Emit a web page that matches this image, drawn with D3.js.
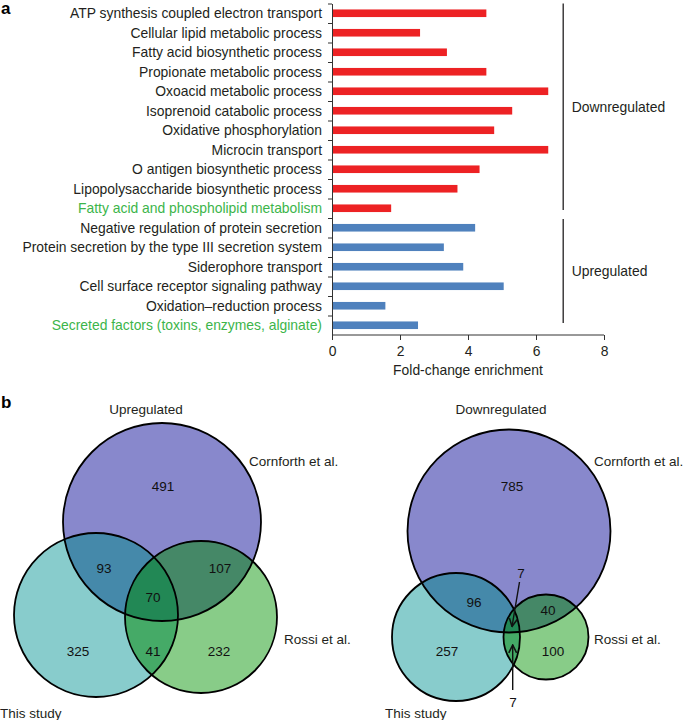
<!DOCTYPE html>
<html><head><meta charset="utf-8">
<script src="https://cdn.jsdelivr.net/npm/d3@7"></script>
<style>body{margin:0;background:#fff}svg{display:block}text{font-family:"Liberation Sans",Arial,Helvetica,sans-serif}</style>
</head><body>
<script>
// ---------- DATA ----------
const categories = [
  "ATP synthesis coupled electron transport",
  "Cellular lipid metabolic process",
  "Fatty acid biosynthetic process",
  "Propionate metabolic process",
  "Oxoacid metabolic process",
  "Isoprenoid catabolic process",
  "Oxidative phosphorylation",
  "Microcin transport",
  "O antigen biosynthetic process",
  "Lipopolysaccharide biosynthetic process",
  "Fatty acid and phospholipid metabolism",
  "Negative regulation of protein secretion",
  "Protein secretion by the type III secretion system",
  "Siderophore transport",
  "Cell surface receptor signaling pathway",
  "Oxidation\u2013reduction process",
  "Secreted factors (toxins, enzymes, alginate)"
];
const foldChange = [4.54, 2.59, 3.38, 4.54, 6.36, 5.30, 4.77, 6.36, 4.34, 3.69, 1.74, 4.21, 3.29, 3.86, 5.05, 1.57, 2.53];
const direction = ["down","down","down","down","down","down","down","down","down","down","down","up","up","up","up","up","up"];
const highlighted = ["Fatty acid and phospholipid metabolism", "Secreted factors (toxins, enzymes, alginate)"];
const xTicks = [0, 2, 4, 6, 8];
const groupNames = ["Downregulated", "Upregulated"];

const vennSets = ["This study", "Cornforth et al.", "Rossi et al."];
const vennRegions = ["C", "TC", "CR", "TCR", "T", "TR", "R"];
const vennUpCounts = [491, 93, 107, 70, 325, 41, 232];
const vennDownCounts = [785, 96, 40, 7, 257, 7, 100];
const vennTitles = ["Upregulated", "Downregulated"];

// ---------- STYLE / LAYOUT ----------
const W = 685, H = 720;
const FS = 13.9, FSV = 13.5;
const colors = {down: "#ed2224", up: "#4f81bd", hl: "#3cb54a", text: "#231f20"};
const regionFill = {C: "#8888cc", T: "#88cccc", R: "#88cc88", TC: "#4589aa", CR: "#458867", TR: "#45aa67", TCR: "#228855"};

const svg = d3.select("body").append("svg").attr("width", W).attr("height", H);

// ---------- PANEL A ----------
const x = d3.scaleLinear().domain([0, 8]).range([332, 604]);
const yTop = 3.5, yBot = 335;
const y = d3.scaleBand().domain(categories).range([yTop, yBot]);
const yIdx = d3.scaleLinear().domain([0, categories.length]).range([yTop, yBot]);
const gA = svg.append("g");

gA.append("text").text("a").attr("x", 1).attr("y", 14).attr("font-weight", "bold").attr("font-size", 17).attr("fill", "#000");

gA.selectAll("rect.bar").data(categories).join("rect").attr("class", "bar")
  .attr("x", x(0)).attr("y", d => y(d) + y.bandwidth() / 2 - 3.8)
  .attr("width", (d, i) => x(foldChange[i]) - x(0)).attr("height", 7.6)
  .attr("fill", (d, i) => colors[direction[i]]);

const yAxis = d3.axisLeft(yIdx).tickValues(d3.range(0, categories.length)).tickFormat("").tickSize(4).tickSizeOuter(0);
const gy = gA.append("g").attr("transform", `translate(${x(0)},0)`).call(yAxis);
gy.selectAll("path,line").attr("stroke", "#333").attr("stroke-width", 1);

gA.selectAll("text.cat").data(categories).join("text").attr("class", "cat")
  .attr("x", 322).attr("y", d => y(d) + y.bandwidth() / 2).attr("dy", "0.35em")
  .attr("text-anchor", "end").attr("font-size", FS)
  .attr("fill", d => highlighted.includes(d) ? colors.hl : colors.text).text(d => d);

const xAxis = d3.axisBottom(x).tickValues(xTicks).tickSize(5).tickSizeOuter(0);
const gx = gA.append("g").attr("transform", `translate(0,${yBot})`).call(xAxis);
gx.selectAll("path,line").attr("stroke", "#333");
gx.selectAll("text").attr("font-size", FS).attr("fill", colors.text).attr("dy", "0.95em")
  .style("font-family", '"Liberation Sans",Arial,sans-serif');
gx.select(".domain").attr("d", `M${x(0)},0H${x(8)}`);

gA.append("text").attr("x", x(4)).attr("y", 375).attr("text-anchor", "middle").attr("font-size", FS)
  .attr("fill", colors.text).text("Fold-change enrichment");

const firstUp = direction.indexOf("up");
const brackets = [
  {name: groupNames[0], y0: yIdx(0), y1: yIdx(firstUp) - 8},
  {name: groupNames[1], y0: yIdx(firstUp) + 1, y1: yIdx(categories.length) - 12}
];
const bx = x(6.8);
brackets.forEach(b => {
  gA.append("line").attr("x1", bx).attr("x2", bx).attr("y1", b.y0).attr("y2", b.y1).attr("stroke", "#231f20").attr("stroke-width", 1.3);
  gA.append("text").attr("x", bx + 8.5).attr("y", (b.y0 + b.y1) / 2).attr("dy", "0.35em").attr("font-size", FS)
    .attr("fill", colors.text).text(b.name);
});

// ---------- PANEL B ----------
svg.append("text").text("b").attr("x", 1).attr("y", 408).attr("font-weight", "bold").attr("font-size", 17).attr("fill", "#000");

const defs = svg.append("defs");
defs.append("marker").attr("id", "arr").attr("viewBox", "0 0 10 10").attr("refX", 9).attr("refY", 5)
  .attr("markerWidth", 7).attr("markerHeight", 7).attr("orient", "auto-start-reverse")
  .append("path").attr("d", "M1,1L9,5L1,9").attr("fill", "none").attr("stroke", "#111").attr("stroke-width", 1.6);

const vennLayouts = [
  {
    title: {x: 146, y: 409},
    circles: {T: [96, 615, 82], C: [162, 522, 99], R: [201, 617, 76]},
    setLabels: {C: [249, 461, "start"], R: [284, 639, "start"], T: [0, 713, "start"]},
    pos: {C: [163, 486], TC: [104, 568], CR: [220, 568], TCR: [153, 597], T: [78, 651], TR: [153, 651], R: [219, 651]},
    counts: vennUpCounts
  },
  {
    title: {x: 501, y: 409},
    circles: {T: [456, 637, 64], C: [509, 531, 101.5], R: [546, 637, 42.5]},
    setLabels: {C: [594, 461, "start"], R: [594, 639, "start"], T: [385, 713, "start"]},
    pos: {C: [512, 486], TC: [474, 602], CR: [548, 610], TCR: [521, 573], T: [447, 651], TR: [513, 702], R: [553, 651]},
    arrows: {TCR: [[519.5, 582], [512, 626.5]], TR: [[512.7, 690], [512.7, 645]]},
    counts: vennDownCounts
  }
];
const setKey = {"This study": "T", "Cornforth et al.": "C", "Rossi et al.": "R"};

vennLayouts.forEach((L, li) => {
  const g = svg.append("g");
  const c = L.circles;
  const cid = k => `clip${li}${k}`;
  ["T", "C", "R"].forEach(k => {
    defs.append("clipPath").attr("id", cid(k)).append("circle").attr("cx", c[k][0]).attr("cy", c[k][1]).attr("r", c[k][2]);
  });
  const circ = (sel, k, fill) => sel.append("circle").attr("cx", c[k][0]).attr("cy", c[k][1]).attr("r", c[k][2]).attr("fill", fill);
  ["C", "T", "R"].forEach(k => circ(g, k, regionFill[k]));
  circ(g.append("g").attr("clip-path", `url(#${cid("C")})`), "T", regionFill.TC);
  circ(g.append("g").attr("clip-path", `url(#${cid("C")})`), "R", regionFill.CR);
  circ(g.append("g").attr("clip-path", `url(#${cid("T")})`), "R", regionFill.TR);
  circ(g.append("g").attr("clip-path", `url(#${cid("C")})`).append("g").attr("clip-path", `url(#${cid("T")})`), "R", regionFill.TCR);
  ["C", "T", "R"].forEach(k => circ(g, k, "none").attr("stroke", "#000").attr("stroke-width", 1.8));

  vennRegions.forEach((r, i) => {
    g.append("text").attr("x", L.pos[r][0]).attr("y", L.pos[r][1]).attr("dy", "0.35em").attr("text-anchor", "middle")
      .attr("font-size", FSV).attr("fill", "#111").text(L.counts[i]);
  });
  if (L.arrows) {
    Object.values(L.arrows).forEach(a => {
      g.append("line").attr("x1", a[0][0]).attr("y1", a[0][1]).attr("x2", a[1][0]).attr("y2", a[1][1])
        .attr("stroke", "#111").attr("stroke-width", 1.4).attr("marker-end", "url(#arr)");
    });
  }
  g.append("text").attr("x", L.title.x).attr("y", L.title.y).attr("dy", "0.35em").attr("text-anchor", "middle")
    .attr("font-size", FSV).attr("fill", colors.text).text(vennTitles[li]);
  vennSets.forEach(s => {
    const p = L.setLabels[setKey[s]];
    g.append("text").attr("x", p[0]).attr("y", p[1]).attr("dy", "0.35em").attr("text-anchor", p[2])
      .attr("font-size", FSV).attr("fill", colors.text).text(s);
  });
});
</script>
</body></html>
